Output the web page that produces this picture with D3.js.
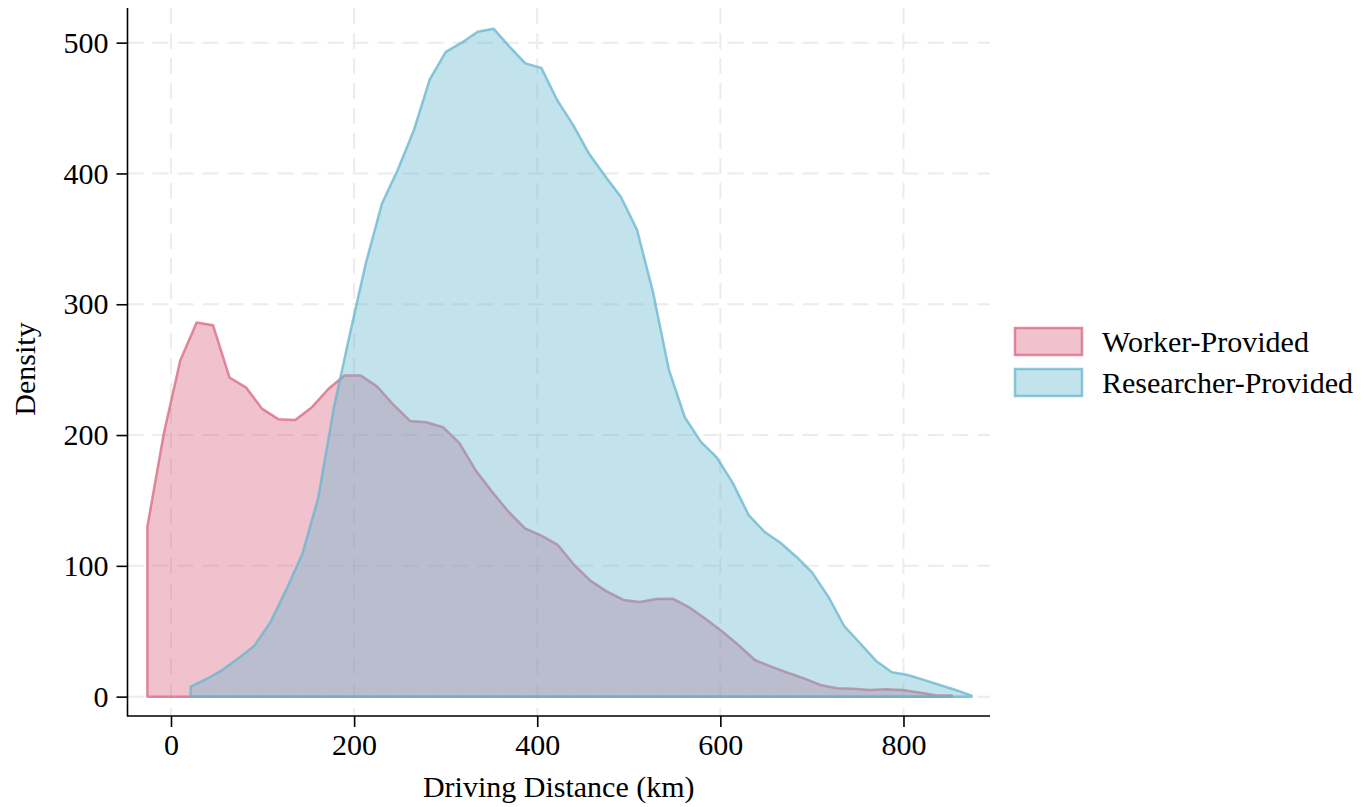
<!DOCTYPE html>
<html>
<head>
<meta charset="utf-8">
<script src="https://cdn.jsdelivr.net/npm/d3@7"></script>
<style>
  body { margin: 0; background: #fff; }
  svg { display: block; font-family: "Liberation Serif", "Times New Roman", serif; }
</style>
</head>
<body>
<svg id="chart"></svg>
<script>
// density curves (km, density)
const workerX = [-25.8, -7.9, 10.1, 28.0, 45.9, 63.9, 81.8, 99.7, 117.7, 135.6, 153.5, 171.5, 189.4, 207.3, 225.2, 243.2, 261.1, 279.0, 297.0, 314.9,
  332.8, 350.7, 368.7, 386.6, 404.5, 422.5, 440.4, 458.3, 476.3, 494.2, 512.1, 530.0, 548.0, 565.9, 583.8, 601.8, 619.7, 637.6, 655.6, 673.5,
  691.4, 709.3, 727.3, 745.2, 763.1, 781.1, 799.0, 816.9, 834.9, 852.8];
const workerY = [130, 201, 257, 286, 284, 244, 236.5, 220, 212, 211.5, 221, 235, 245.5, 245.5, 237, 223, 210.8, 209.8, 206, 194,
  173, 156.7, 141.4, 128.7, 123.1, 116, 100.7, 88.5, 80.3, 73.9, 72.4, 74.7, 74.9, 68.3, 59.6, 50, 39.5, 28, 22.9, 18.3,
  14, 8.9, 6.4, 6.1, 5.1, 5.6, 5.1, 3.1, 1.1, 0.8];

const researcherX = [21.5, 38.9, 56.3, 73.7, 91.1, 108.6, 126.0, 143.4, 160.8, 178.2, 195.6, 213.0, 230.4, 247.8, 265.2, 282.6, 300.1, 317.5, 334.9, 352.3,
  369.7, 387.1, 404.5, 421.9, 439.3, 456.7, 474.1, 491.5, 509.0, 526.4, 543.8, 561.2, 578.6, 596.0, 613.4, 630.8, 648.2, 665.6, 683.0, 700.4,
  717.9, 735.3, 752.7, 770.1, 787.5, 804.9, 822.3, 839.7, 857.1, 874.5];
const researcherY = [7.6, 13.5, 20.5, 29.4, 39, 57, 82, 109, 152, 222, 278, 332, 377, 403, 433, 472, 493, 500, 508.4, 510.7,
  497, 484.2, 480.7, 456, 437, 415, 398, 382, 357, 309.6, 250, 213.6, 195, 183, 163.6, 139, 126, 117.7, 107, 94.8,
  76.5, 54, 40.8, 27.3, 18.7, 16.5, 12.8, 8.9, 5.1, 0.8];

const xTicks = [0, 200, 400, 600, 800];
const yTicks = [0, 100, 200, 300, 400, 500];
const seriesNames = ['Worker-Provided', 'Researcher-Provided'];

// set up constants
const width = 1372;
const height = 807;
const plot = { left: 127.5, right: 990, top: 8, bottom: 716 };
const fontSize = 30;

const colors = {
  'Worker-Provided': 'rgb(217,102,130)',
  'Researcher-Provided': 'rgb(102,182,207)'
};

const svg = d3.select('#chart')
  .attr('width', width)
  .attr('height', height);

const x = d3.scaleLinear().domain([-47.5, 894.5]).range([plot.left, plot.right]);
const y = d3.scaleLinear().domain([-14.8, 526.5]).range([plot.bottom, plot.top]);

// dashed grid
const grid = svg.append('g')
  .attr('stroke', '#ececec')
  .attr('stroke-width', 2)
  .attr('stroke-dasharray', '16,9');

grid.selectAll('.vgrid')
  .data(xTicks)
  .enter()
  .append('line')
  .attr('x1', d => x(d)).attr('x2', d => x(d))
  .attr('y1', plot.top).attr('y2', plot.bottom);

grid.selectAll('.hgrid')
  .data(yTicks)
  .enter()
  .append('line')
  .attr('x1', plot.left).attr('x2', plot.right)
  .attr('y1', d => y(d)).attr('y2', d => y(d));

// density areas
const series = [
  { name: 'Worker-Provided', values: workerX.map((v, i) => ({ x: v, y: workerY[i] })) },
  { name: 'Researcher-Provided', values: researcherX.map((v, i) => ({ x: v, y: researcherY[i] })) }
];

const area = d3.area()
  .x(d => x(d.x))
  .y0(y(0))
  .y1(d => y(d.y));

svg.selectAll('.area')
  .data(series)
  .enter()
  .append('path')
  .attr('d', d => area(d.values))
  .attr('fill', d => colors[d.name])
  .attr('fill-opacity', 0.4)
  .attr('stroke', d => colors[d.name])
  .attr('stroke-opacity', 0.75)
  .attr('stroke-width', 2.5)
  .attr('stroke-linejoin', 'round');

// axes
const xAxis = d3.axisBottom(x).tickValues(xTicks).tickSize(11).tickPadding(7);
const yAxis = d3.axisLeft(y).tickValues(yTicks).tickSize(11).tickPadding(8);

const gx = svg.append('g')
  .attr('transform', `translate(0, ${plot.bottom})`)
  .call(xAxis);
const gy = svg.append('g')
  .attr('transform', `translate(${plot.left}, 0)`)
  .call(yAxis);

[gx, gy].forEach(g => {
  g.select('.domain').remove();
  g.selectAll('line').attr('stroke', '#000').attr('stroke-width', 1.6);
  g.selectAll('text')
    .attr('fill', '#000')
    .style('font-family', '"Liberation Serif", "Times New Roman", serif')
    .style('font-size', fontSize + 'px');
});

// axis lines as an L
svg.append('path')
  .attr('d', `M${plot.left},${plot.top}V${plot.bottom}H${plot.right}`)
  .attr('fill', 'none')
  .attr('stroke', '#000')
  .attr('stroke-width', 1.6);

// axis titles
svg.append('text')
  .attr('x', (plot.left + plot.right) / 2)
  .attr('y', 797)
  .attr('text-anchor', 'middle')
  .style('font-size', fontSize + 'px')
  .text('Driving Distance (km)');

svg.append('text')
  .attr('transform', `translate(35, ${(plot.top + plot.bottom) / 2 + 7}) rotate(-90)`)
  .attr('text-anchor', 'middle')
  .style('font-size', fontSize + 'px')
  .text('Density');

// legend
const legend = svg.append('g').attr('transform', 'translate(1014, 327)');
const items = legend.selectAll('g')
  .data(seriesNames)
  .enter()
  .append('g')
  .attr('transform', (d, i) => `translate(0, ${i * 41})`);

items.append('rect')
  .attr('x', 1).attr('y', 1)
  .attr('width', 67).attr('height', 27)
  .attr('fill', d => colors[d])
  .attr('fill-opacity', 0.4)
  .attr('stroke', d => colors[d])
  .attr('stroke-opacity', 0.75)
  .attr('stroke-width', 2.5);

items.append('text')
  .attr('x', 88)
  .attr('y', 25)
  .style('font-size', fontSize + 'px')
  .text(d => d);
</script>
</body>
</html>
